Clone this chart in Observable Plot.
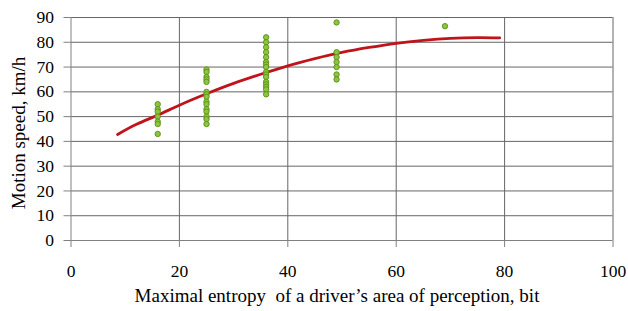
<!DOCTYPE html>
<html>
<head>
<meta charset="utf-8">
<script src="https://cdn.jsdelivr.net/npm/d3@7"></script>
<script src="https://cdn.jsdelivr.net/npm/@observablehq/plot@0.6"></script>
<style>
  html, body { margin: 0; padding: 0; background: #fff; }
  #chart { width: 628px; height: 311px; }
</style>
</head>
<body>
<div id="chart"></div>
<script>
// Observed points (entropy, bit ; speed, km/h)
const pointX = [
  16,16,16,16,16,16,16,
  25,25,25,25,25,25,25,25,25,25,25,25,25,25,25,
  36,36,36,36,36,36,36,36,36,36,36,36,36,36,36,36,
  49,49,49,49,49,49,49,
  69
];
const pointY = [
  55,53,52,50,48,47,43,
  69,68,66,65,64,60,59,58,56,55,53,52,50,49,47,
  82,80,78,76,74,72,71,70,68,67,66,64,63,62,61,59,
  88,76,74,72,70,67,65,
  86.5
];
// Fitted trend curve
const curveX = [8.6, 12, 16, 20, 25, 30, 35, 40, 45, 50, 55, 60, 65, 70, 75, 79.1];
const curveY = [42.8, 46.8, 50.6, 54.6, 59.2, 63.4, 67.1, 70.5, 73.4, 75.9, 77.9, 79.6, 80.8, 81.6, 81.9, 81.8];
// Axes
const xTicks = [0, 20, 40, 60, 80, 100];
const yTicks = [0, 10, 20, 30, 40, 50, 60, 70, 80, 90];
const xLabel = "Maximal entropy  of a driver\u2019s area of perception, bit";
const yLabel = "Motion speed, km/h";

const points = pointX.map((x, i) => ({x, y: pointY[i]}));
const curve = curveX.map((x, i) => ({x, y: curveY[i]}));

const gray = "#808080";
const gridGray = "#666666";
const chart = Plot.plot({
  width: 628,
  height: 311,
  marginLeft: 70.5,
  marginRight: 15.5,
  marginTop: 17,
  marginBottom: 71,
  style: {fontFamily: "'Liberation Serif', 'Times New Roman', serif", fontSize: "17px", background: "#fff", color: "#000"},
  x: {domain: [0, 100]},
  y: {domain: [0, 90]},
  marks: [
    Plot.gridY(yTicks.slice(1), {stroke: gridGray, strokeOpacity: 1, strokeWidth: 1}),
    Plot.gridX(xTicks.slice(1), {stroke: gridGray, strokeOpacity: 1, strokeWidth: 1}),
    Plot.ruleX([0], {stroke: gray}),
    Plot.ruleY([0], {stroke: gray}),
    Plot.axisY(yTicks, {tickSize: 7, tickPadding: 10, label: null, stroke: gray, fill: "#000", fontSize: 17.5}),
    Plot.axisX(xTicks, {tickSize: 7, tickPadding: 17, label: null, stroke: gray, fill: "#000", fontSize: 17.5}),
    Plot.line(curve, {x: "x", y: "y", stroke: "#c0141c", strokeWidth: 2.8, curve: "natural"}),
    Plot.dot(points, {x: "x", y: "y", r: 2.7, fill: "#8cc63e", stroke: "#5b8c1a", strokeWidth: 0.9}),
    Plot.text([yLabel], {text: d => d, frameAnchor: "left", textAnchor: "middle", dx: -52, dy: 4, rotate: -90, fontSize: 19, fill: "#000"}),
    Plot.text([xLabel], {text: d => d, frameAnchor: "bottom", textAnchor: "middle", dy: 61, dx: -5, fontSize: 19, fill: "#000"})
  ]
});
document.getElementById("chart").appendChild(chart);
</script>
</body>
</html>
